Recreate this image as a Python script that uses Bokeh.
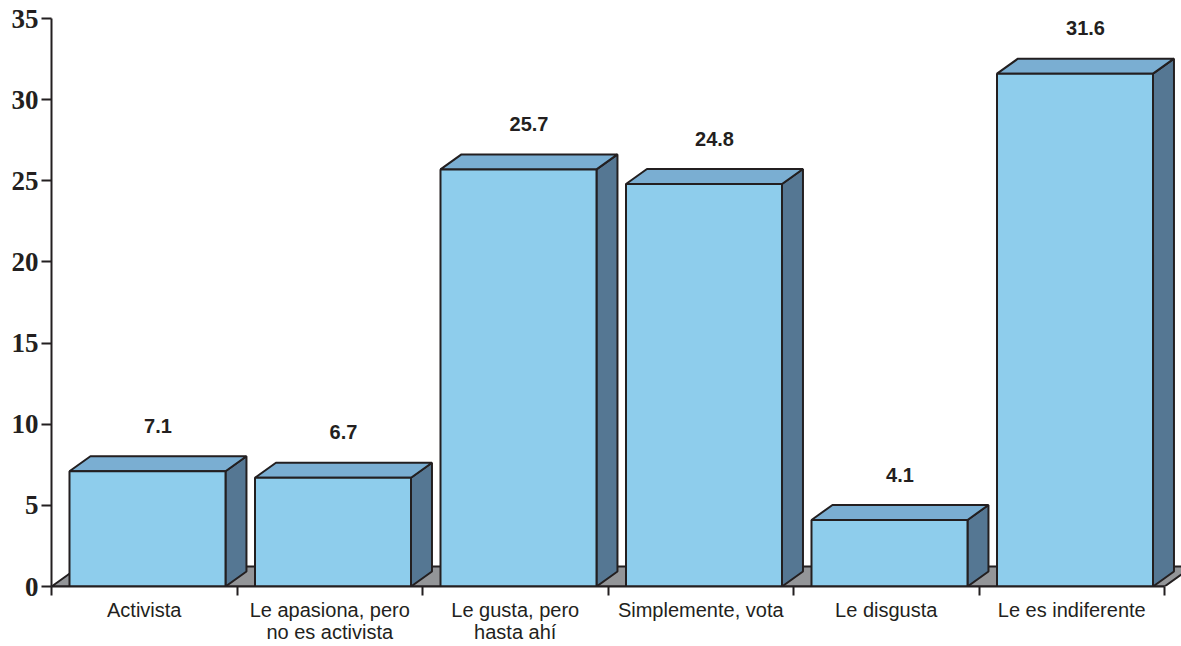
from bokeh.plotting import figure
from bokeh.models import FixedTicker, LinearAxis, Range1d
from bokeh.core.properties import value
from bokeh.embed import file_html
from bokeh.resources import INLINE

categories = ["Activista", "Le apasiona, pero\nno es activista", "Le gusta, pero\nhasta ahí",
              "Simplemente, vota", "Le disgusta", "Le es indiferente"]
values = [7.1, 6.7, 25.7, 24.8, 4.1, 31.6]
value_labels = ["7.1", "6.7", "25.7", "24.8", "4.1", "31.6"]
y_ticks = [0, 5, 10, 15, 20, 25, 30, 35]

# style / geometry
INK = "#231f20"
FRONT = "#8ecdec"
TOP = "#7aaed2"
SIDE = "#557793"
FLOOR = "#939598"
gap = 0.097
face_w = 0.841
dx = 0.113
dy = 0.924
fdx = 0.151
fdy = 1.232
lab_off = 2.8
overhang = 0.0916

n = len(categories)
p = figure(width=1181, height=646, x_range=Range1d(0, n + overhang), y_range=Range1d(0, 35),
           output_backend="svg", toolbar_location=None,
           min_border_left=51, min_border_right=0, min_border_top=18, min_border_bottom=60,
           x_axis_type=None, y_axis_type=None)
p.outline_line_color = None
p.background_fill_color = "white"

# floor
p.patch([0, n, n + fdx, fdx], [0, 0, fdy, fdy], fill_color=FLOOR, line_color=INK, line_width=2)

lefts = [i + gap for i in range(n)]
rights = [l + face_w for l in lefts]

side_xs = [[r, r + dx, r + dx, r] for r in rights]
side_ys = [[0, dy, v + dy, v] for v in values]
top_xs = [[l, l + dx, r + dx, r] for l, r in zip(lefts, rights)]
top_ys = [[v, v + dy, v + dy, v] for v in values]

p.patches(side_xs, side_ys, fill_color=SIDE, line_color=INK, line_width=2)
p.patches(top_xs, top_ys, fill_color=TOP, line_color=INK, line_width=2)
p.quad(left=lefts, right=rights, bottom=0, top=values, fill_color=FRONT, line_color=INK, line_width=2)

p.text(x=[(l + r + dx) / 2 for l, r in zip(lefts, rights)], y=[v + lab_off for v in values],
       text=value_labels, text_align="center", text_baseline="middle",
       text_font=value("Liberation Sans"), text_font_style="bold", text_font_size="20px",
       text_color=INK)

yaxis = LinearAxis(ticker=FixedTicker(ticks=y_ticks), axis_line_width=2, axis_line_color=INK,
                   major_tick_line_width=2, major_tick_line_color=INK, major_tick_out=10, major_tick_in=0,
                   minor_tick_out=0, minor_tick_in=0,
                   major_label_text_font="Liberation Serif", major_label_text_font_style="bold",
                   major_label_text_font_size="27px", major_label_text_color=INK, major_label_standoff=3)
p.add_layout(yaxis, "left")

xaxis = LinearAxis(ticker=FixedTicker(ticks=[i + 0.5 for i in range(n)], minor_ticks=list(range(n + 1))),
                   bounds=(0, n),
                   major_label_overrides={i + 0.5: c for i, c in enumerate(categories)},
                   axis_line_width=2, axis_line_color=INK,
                   major_tick_out=0, major_tick_in=0,
                   minor_tick_out=9, minor_tick_in=0, minor_tick_line_width=2, minor_tick_line_color=INK,
                   major_label_text_font="Liberation Sans", major_label_text_font_size="20px",
                   major_label_text_line_height=1.03,
                   major_label_text_color=INK, major_label_standoff=3)
p.add_layout(xaxis, "below")

open("out.html", "w").write(file_html(p, INLINE))
